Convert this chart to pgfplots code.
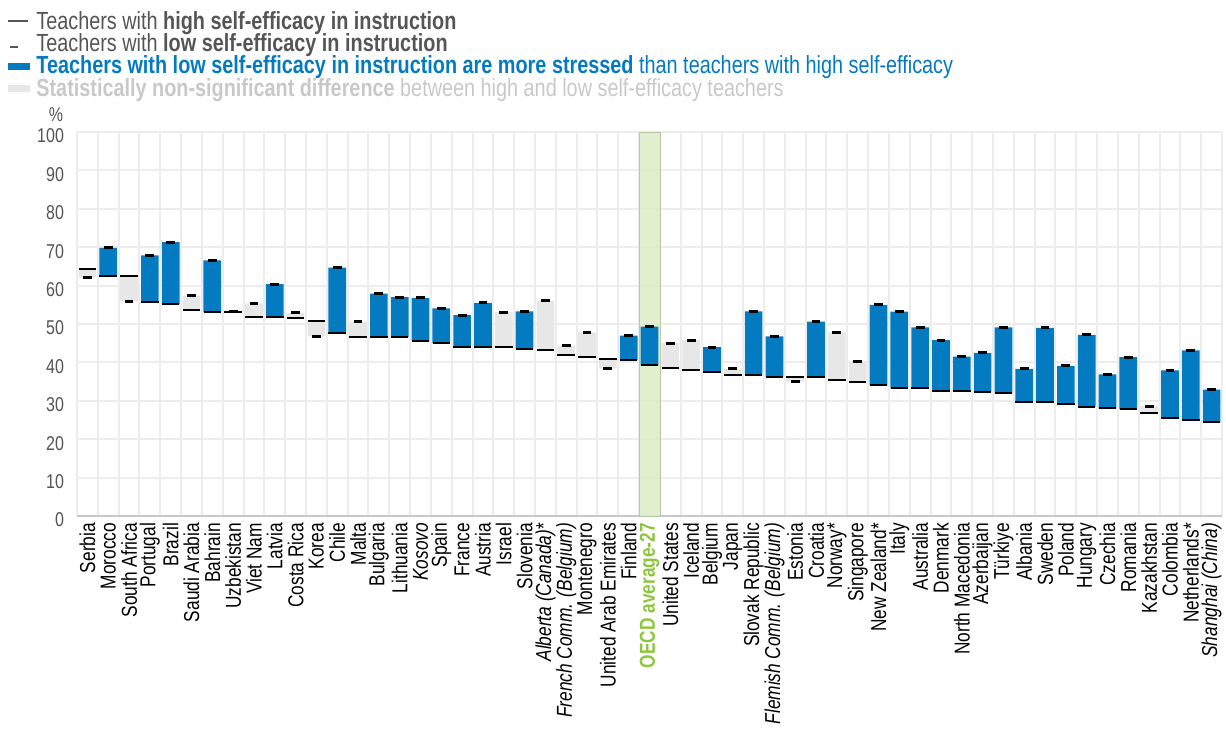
\documentclass[border=0pt]{standalone}
\usepackage{fontspec}
\setmainfont{Liberation Sans}[FakeStretch=0.8]
\usepackage{pgfplots}
\usepackage{pgfplotstable}
\pgfplotsset{compat=1.18}
\usetikzlibrary{calc}

\definecolor{oecdblue}{RGB}{4,123,192}
\definecolor{barg}{RGB}{231,231,231}
\definecolor{gridg}{RGB}{236,236,236}
\definecolor{oecdgreen}{RGB}{140,198,63}
\definecolor{bandg}{RGB}{218,236,196}
\definecolor{txtg}{RGB}{85,85,85}
\definecolor{legg}{RGB}{200,200,200}

% x, share stressed (high self-efficacy), share stressed (low self-efficacy), significant?
\pgfplotstableread{
x high low sig
1 64.4 62.1 0
2 62.5 69.8 1
3 62.5 55.9 0
4 55.7 67.9 1
5 55.1 71.3 1
6 53.6 57.4 0
7 53.1 66.6 1
8 53.0 53.3 0
9 51.9 55.4 0
10 51.9 60.4 1
11 51.6 52.9 0
12 50.9 46.8 0
13 47.6 64.7 1
14 46.6 50.6 0
15 46.6 57.9 1
16 46.6 57.0 1
17 45.6 56.8 1
18 45.0 54.1 1
19 44.1 52.3 1
20 44.1 55.5 1
21 44.1 53.1 0
22 43.6 53.3 1
23 43.2 56.1 0
24 41.8 44.3 0
25 41.5 47.8 0
26 41.0 38.4 0
27 40.6 47.0 1
28 39.3 49.3 1
29 38.5 45.0 0
30 38.1 45.8 0
31 37.6 44.0 1
32 36.6 38.3 0
33 36.6 53.3 1
34 36.3 46.8 1
35 36.3 35.0 0
36 36.1 50.6 1
37 35.3 47.8 0
38 34.9 40.2 0
39 34.0 55.0 1
40 33.3 53.2 1
41 33.3 49.1 1
42 32.6 45.8 1
43 32.6 41.5 1
44 32.4 42.5 1
45 32.0 49.1 1
46 29.8 38.3 1
47 29.7 49.0 1
48 29.1 39.1 1
49 28.5 47.2 1
50 28.0 36.9 1
51 27.8 41.4 1
52 26.8 28.6 0
53 25.5 37.9 1
54 24.9 43.1 1
55 24.4 32.9 1
}\data

\pgfplotsset{
  frame/.style={
    width=572.5pt, height=192pt, scale only axis,
    at={(0,0)}, anchor=south west,
    xmin=0.5, xmax=55.5, ymin=0, ymax=100,
  },
}

\begin{document}
\begin{tikzpicture}
% ---- background: grid, ticks, OECD band ----
\begin{axis}[frame,
  axis line style={draw=none},
  ytick={0,10,...,100},
  xtick={1,...,55},
  minor xtick={0.5,1.5,...,55.5},
  xminorgrids=true, ymajorgrids=true,
  grid style={gridg, line width=1pt},
  minor grid style={gridg, line width=1pt},
  major tick length=0pt, minor tick length=0pt,
  /pgf/number format/assume math mode=true,
  yticklabel style={font=\fontsize{10}{12}\selectfont, text=txtg, xshift=-3pt, yshift=-2pt},
  xticklabel style={font=\fontsize{10.8}{12}\selectfont, rotate=90, anchor=east},
  xticklabels={Serbia, Morocco, South Africa, Portugal, Brazil, Saudi Arabia, Bahrain,
    Uzbekistan, Viet Nam, Latvia, Costa Rica, Korea, Chile, Malta, Bulgaria, Lithuania,
    \textit{Kosovo}, Spain, France, Austria, Israel, Slovenia, {\textit{Alberta (Canada)}*},
    \textit{French Comm. (Belgium)}, Montenegro, United Arab Emirates, Finland,
    {\textcolor{oecdgreen}{\bfseries OECD average-27}}, United States, Iceland, Belgium,
    Japan, Slovak Republic, \textit{Flemish Comm. (Belgium)}, Estonia, Croatia, Norway*,
    Singapore, New Zealand*, Italy, Australia, Denmark, North Macedonia, Azerbaijan,
    Türkiye, Albania, Sweden, Poland, Hungary, Czechia, Romania, Kazakhstan, Colombia,
    Netherlands*, \textit{Shanghai (China)}},
  extra y ticks={0}, extra y tick labels={},
  extra y tick style={grid style={black!22, line width=1pt}},
]
\addplot[fill=bandg, fill opacity=0.85, draw=bandg!85!black, line width=0.4pt]
  coordinates {(27.5,0) (27.5,100) (28.5,100) (28.5,0)} -- cycle;
\coordinate (bl) at (rel axis cs:0,0);
\end{axis}

% ---- bars between the two values ----
\begin{axis}[frame, hide axis, ybar stacked, bar width=0.85]
\addplot[draw=none, fill=none] table[x=x, y expr={min(\thisrow{high},\thisrow{low})}] {\data};
\addplot[draw=none, fill=oecdblue] table[x=x, y expr={\thisrow{sig}*abs(\thisrow{low}-\thisrow{high})}] {\data};
\addplot[draw=none, fill=barg] table[x=x, y expr={(1-\thisrow{sig})*abs(\thisrow{low}-\thisrow{high})}] {\data};
\end{axis}

% ---- markers: high (thin line) and low (short thick bar) ----
\begin{axis}[frame, hide axis, clip=false]
\addplot[only marks, mark=-, mark size=4.4pt, mark options={line width=1pt, black}]
  table[x=x, y=high] {\data};
\addplot[only marks, mark=-, mark size=2.2pt, mark options={line width=1.5pt, black}]
  table[x=x, y=low] {\data};
\end{axis}

% ---- legend and unit ----
\coordinate (tl) at ($(bl)+(-38.5pt,258pt)$);
\begin{scope}[every node/.style={font=\fontsize{12.4}{14}\selectfont, inner sep=0pt, anchor=base west}]
\draw[txtg, line width=1pt] ($(tl)+(4pt,-10.5pt)$) -- ++(10pt,0);
\node[text=txtg] at ($(tl)+(18pt,-14.5pt)$) {Teachers with \textbf{high self-efficacy in instruction}};
\draw[txtg, line width=1.4pt] ($(tl)+(5pt,-23.5pt)$) -- ++(4pt,0);
\node[text=txtg] at ($(tl)+(18pt,-25.5pt)$) {Teachers with \textbf{low self-efficacy in instruction}};
\fill[oecdblue] ($(tl)+(4pt,-31.5pt)$) rectangle ++(11pt,-3.5pt);
\node[text=oecdblue] at ($(tl)+(18pt,-36.5pt)$) {\textbf{Teachers with low self-efficacy in instruction are more stressed} than teachers with high self-efficacy};
\fill[barg] ($(tl)+(4pt,-42.5pt)$) rectangle ++(11pt,-3.5pt);
\node[text=legg] at ($(tl)+(18pt,-48pt)$) {\textbf{Statistically non-significant difference} between high and low self-efficacy teachers};
\end{scope}
\node[font=\fontsize{10}{12}\selectfont, text=txtg] at ($(tl)+(28pt,-57.5pt)$) {\%};

\pgfresetboundingbox
\useasboundingbox (tl) rectangle ($(bl)+(574.5pt,-109.5pt)$);
\end{tikzpicture}
\end{document}
